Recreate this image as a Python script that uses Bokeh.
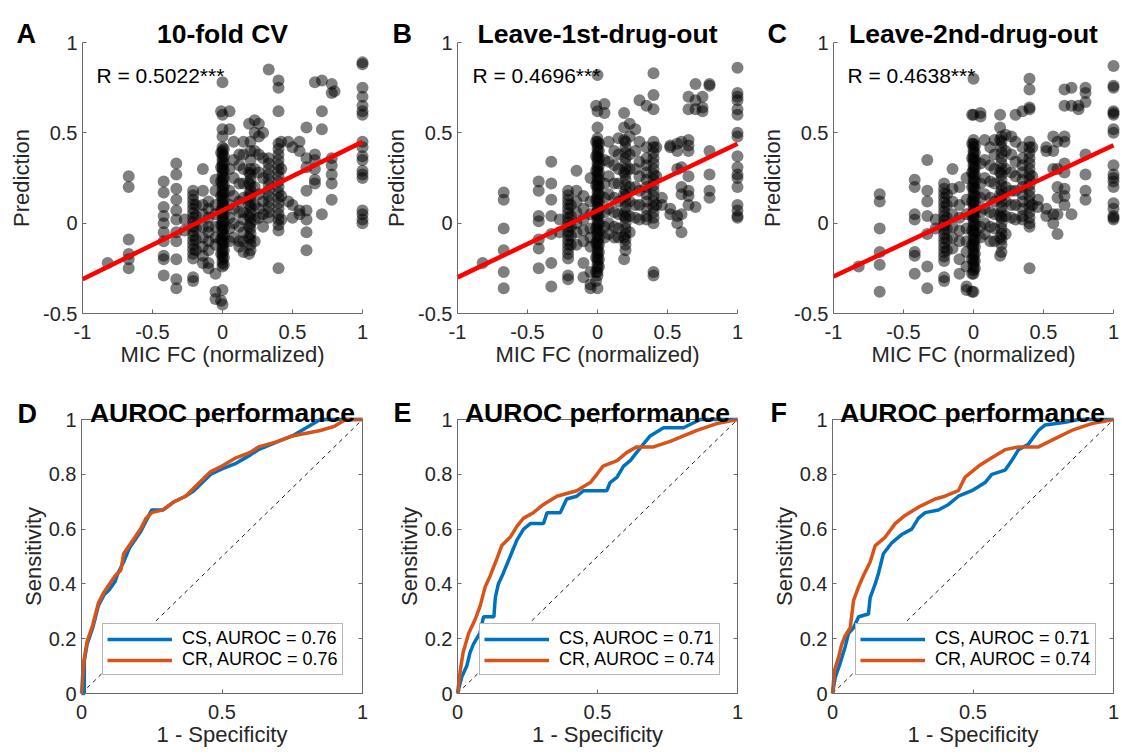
from bokeh.plotting import figure
from bokeh.models import Range1d, FixedTicker, Label, Legend, LegendItem, LinearAxis
from bokeh.layouts import gridplot
from bokeh.embed import file_html
from bokeh.resources import INLINE

FONT = "Liberation Sans"
GRAY = "#262626"
LINE_GRAY = "#6a6a6a"

# ---------------- data: scatter panels (x column -> list of predictions) ----------------
a_x_cols = [-0.82, -0.67, -0.42, -0.33, -0.27, -0.21, -0.19, -0.14, -0.10, -0.05, -0.01, 0.0, 0.01,
            0.05, 0.08, 0.12, 0.15, 0.19, 0.20, 0.23, 0.26, 0.29, 0.33, 0.40, 0.42, 0.47, 0.50, 0.55,
            0.60, 0.66, 0.71, 0.78, 0.80, 1.0]
a_y_cols = [
    [-0.22],
    [0.26, 0.20, -0.09, -0.17, -0.20, -0.25],
    [0.23, 0.17, 0.09, 0.04, 0.0, -0.05, -0.10, -0.18, -0.20, -0.29],
    [0.33, 0.27, 0.19, 0.13, 0.07, 0.02, -0.05, -0.10, -0.20, -0.31, -0.36],
    [0.02, -0.04],
    [0.18, 0.155, 0.13, 0.105, 0.08, 0.055, 0.03, 0.005, -0.02, -0.045, -0.07, -0.095, -0.12, -0.145,
     -0.17, -0.195, -0.30, -0.32],
    [0.10, 0.04, -0.03, -0.09, -0.15],
    [0.30, 0.18, 0.10, 0.05, -0.02, -0.08, -0.13, -0.18, -0.22],
    [0.12, 0.08, 0.03, -0.02, -0.05, -0.10, -0.15, -0.22, -0.25],
    [0.24, 0.18, 0.10, 0.05, -0.02, -0.08, -0.12, -0.28, -0.38, -0.42],
    [0.62, 0.39, 0.31, 0.23, 0.15, 0.07, -0.01, -0.09, -0.17, -0.43],
    [0.78, 0.60, 0.52, 0.48, 0.42, 0.40, 0.38, 0.36, 0.34, 0.32, 0.30, 0.28, 0.26, 0.24, 0.22, 0.20,
     0.18, 0.16, 0.14, 0.12, 0.10, 0.08, 0.06, 0.04, 0.02, 0.0, -0.02, -0.04, -0.06, -0.08, -0.10,
     -0.12, -0.14, -0.16, -0.18, -0.20, -0.22, -0.24, -0.37, -0.45],
    [0.41, 0.37, 0.33, 0.29, 0.25, 0.21, 0.17, 0.13, 0.09, 0.05, 0.01, -0.03, -0.07, -0.11, -0.15,
     -0.19, -0.23],
    [0.62, 0.52, 0.30, 0.18, 0.10, 0.03, -0.03, -0.10],
    [0.45, 0.35, 0.25, 0.15, 0.08, 0.0, -0.08],
    [0.38, 0.32, 0.22, 0.12, 0.06, -0.02, -0.10, -0.13],
    [0.45, 0.38, 0.30, 0.22, 0.14, 0.06, 0.02, -0.05, -0.10, -0.16],
    [0.55, 0.28, 0.22, 0.16, 0.10, 0.04, -0.02, -0.08, -0.17],
    [0.45, 0.40, 0.35, 0.30, 0.27, 0.24, 0.21, 0.18, 0.15, 0.12, 0.09, 0.06, 0.03, 0.0, -0.03, -0.06,
     -0.09, -0.12, -0.15],
    [0.57, 0.50, 0.40, 0.30, 0.20, 0.10, 0.02, -0.10],
    [0.55, 0.48, 0.38, 0.28, 0.16, 0.08, 0.03],
    [0.50, 0.36, 0.25, 0.12, 0.05, -0.02],
    [0.85, 0.36, 0.33, 0.30, 0.27, 0.24, 0.21, 0.18, 0.15, 0.12, 0.09, 0.06, 0.03],
    [0.79, 0.75, 0.62, 0.44, 0.41, 0.38, 0.35, 0.32, 0.29, 0.26, 0.23, 0.20, 0.17, 0.14, 0.11, 0.08,
     0.05, 0.02, -0.01, -0.04, -0.25],
    [0.45, 0.30, 0.15, 0.02],
    [0.45, 0.12],
    [0.42, 0.10, 0.03],
    [0.45, 0.40, 0.07, 0.05],
    [0.53, 0.36, 0.31, 0.18, 0.07, 0.02, -0.05, -0.15],
    [0.78, 0.38, 0.35, 0.30, 0.24, 0.22],
    [0.79, 0.62, 0.52, 0.05],
    [0.77, 0.72, 0.36, 0.32, 0.27, 0.22, 0.13],
    [0.73],
    [0.89, 0.88, 0.75, 0.70, 0.65, 0.62, 0.60, 0.45, 0.42, 0.37, 0.35, 0.29, 0.27, 0.25, 0.07, 0.05,
     0.02, 0.0],
]

b_x_cols = [-0.82, -0.67, -0.42, -0.33, -0.27, -0.21, -0.19, -0.15, -0.10, -0.05, -0.01, 0.0, 0.01,
            0.05, 0.08, 0.12, 0.15, 0.19, 0.20, 0.23, 0.27, 0.30, 0.35, 0.40, 0.42, 0.46, 0.52, 0.57,
            0.60, 0.65, 0.70, 0.75, 0.80, 1.0]
b_y_cols = [
    [-0.22],
    [0.17, 0.13, -0.03, -0.15, -0.27, -0.36],
    [0.23, 0.18, 0.04, 0.01, -0.09, -0.14, -0.25],
    [0.34, 0.22, 0.13, 0.04, -0.06, -0.22, -0.35],
    [0.02, -0.05],
    [0.18, 0.155, 0.13, 0.105, 0.08, 0.055, 0.03, 0.005, -0.02, -0.045, -0.07, -0.095, -0.12, -0.145,
     -0.17, -0.195, -0.29, -0.31],
    [0.10, 0.04, -0.02, -0.07, -0.12],
    [0.29, 0.18, 0.12, 0.06, 0.0, -0.05, -0.12],
    [0.15, 0.08, 0.02, -0.04, -0.10, -0.22, -0.30],
    [0.25, 0.12, 0.05, -0.03, -0.08, -0.13, -0.27, -0.34, -0.36],
    [0.65, 0.45, 0.37, 0.29, 0.21, 0.13, 0.05, -0.03, -0.11, -0.19, -0.27, -0.32],
    [0.82, 0.62, 0.53, 0.47, 0.45, 0.43, 0.41, 0.39, 0.37, 0.35, 0.33, 0.31, 0.29, 0.27, 0.25, 0.23,
     0.21, 0.19, 0.17, 0.15, 0.13, 0.11, 0.09, 0.07, 0.05, 0.03, 0.01, -0.01, -0.03, -0.05, -0.07,
     -0.09, -0.11, -0.13, -0.15, -0.17, -0.19, -0.21, -0.23, -0.25, -0.27, -0.29, -0.36],
    [0.44, 0.40, 0.36, 0.32, 0.28, 0.24, 0.20, 0.16, 0.12, 0.08, 0.04, 0.0, -0.04, -0.08, -0.12,
     -0.16, -0.20, -0.24],
    [0.66, 0.61, 0.35, 0.22, 0.14, 0.06, -0.02, -0.08],
    [0.45, 0.34, 0.26, 0.16, 0.08, 0.0, -0.06],
    [0.40, 0.32, 0.22, 0.14, 0.06, -0.02, -0.08],
    [0.47, 0.38, 0.30, 0.22, 0.12, 0.05, -0.03, -0.08],
    [0.61, 0.53, 0.46, 0.28, 0.16, 0.04, -0.08, -0.20],
    [0.45, 0.42, 0.39, 0.36, 0.33, 0.30, 0.27, 0.24, 0.21, 0.18, 0.15, 0.12, 0.09, 0.06, 0.03, 0.0,
     -0.03, -0.06, -0.09, -0.12, -0.15],
    [0.55, 0.48, 0.38, 0.30, 0.20, 0.12, 0.04, -0.05],
    [0.52, 0.40, 0.30, 0.20, 0.10, 0.03],
    [0.68, 0.45, 0.34, 0.26, 0.18, 0.10, 0.02],
    [0.65, 0.42, 0.36, 0.32, 0.28, 0.24, 0.20, 0.16, 0.12, 0.08, 0.04, 0.02],
    [0.83, 0.71, 0.63, 0.45, 0.42, 0.39, 0.36, 0.33, 0.30, 0.27, 0.24, 0.21, 0.18, 0.15, 0.12, 0.09,
     0.06, 0.03, 0.0, -0.27, -0.29],
    [0.42, 0.26, 0.10],
    [0.14, 0.10],
    [0.43, 0.42, 0.08, 0.05],
    [0.44, 0.40, 0.30, 0.04, 0.0],
    [0.45, 0.31, 0.20, 0.16, 0.05, -0.05],
    [0.70, 0.63, 0.46, 0.43, 0.40, 0.26, 0.18, 0.15, 0.10],
    [0.77, 0.68, 0.63, 0.09],
    [0.62, 0.70, 0.64],
    [0.77, 0.76, 0.40, 0.27, 0.18, 0.14],
    [0.86, 0.72, 0.70, 0.68, 0.63, 0.60, 0.50, 0.48, 0.37, 0.31, 0.27, 0.25, 0.20, 0.10, 0.07, 0.04,
     0.03],
]

c_x_cols = [-0.82, -0.67, -0.42, -0.33, -0.27, -0.21, -0.19, -0.15, -0.10, -0.05, -0.01, 0.0, 0.01,
            0.05, 0.08, 0.12, 0.15, 0.19, 0.20, 0.23, 0.27, 0.30, 0.35, 0.40, 0.42, 0.46, 0.52, 0.57,
            0.60, 0.65, 0.70, 0.75, 0.80, 1.0]
c_y_cols = [
    [-0.24],
    [0.16, 0.12, -0.03, -0.16, -0.23, -0.38],
    [0.24, 0.20, 0.05, 0.02, -0.16, -0.18, -0.28],
    [0.35, 0.18, 0.12, 0.04, -0.06, -0.24, -0.36],
    [0.02, -0.03],
    [0.22, 0.19, 0.165, 0.14, 0.115, 0.09, 0.065, 0.04, 0.015, -0.01, -0.035, -0.06, -0.085, -0.11,
     -0.135, -0.16, -0.185, -0.21, -0.30, -0.32],
    [0.16, 0.10, 0.03, -0.03, -0.09, -0.15],
    [0.30, 0.19, 0.12, 0.05, -0.02, -0.08, -0.14],
    [0.20, 0.10, 0.03, -0.04, -0.10, -0.20, -0.28],
    [0.25, 0.13, 0.05, -0.03, -0.10, -0.16, -0.24, -0.35, -0.37],
    [0.60, 0.44, 0.36, 0.28, 0.20, 0.12, 0.04, -0.04, -0.12, -0.20, -0.28, -0.38],
    [0.80, 0.60, 0.46, 0.44, 0.42, 0.40, 0.38, 0.36, 0.34, 0.32, 0.30, 0.28, 0.26, 0.24, 0.22, 0.20,
     0.18, 0.16, 0.14, 0.12, 0.10, 0.08, 0.06, 0.04, 0.02, 0.0, -0.02, -0.04, -0.06, -0.08, -0.10,
     -0.12, -0.14, -0.16, -0.18, -0.20, -0.22, -0.24, -0.26, -0.28, -0.38],
    [0.43, 0.39, 0.35, 0.31, 0.27, 0.23, 0.19, 0.15, 0.11, 0.07, 0.03, -0.01, -0.05, -0.09, -0.13,
     -0.17, -0.21, -0.25],
    [0.61, 0.59, 0.33, 0.22, 0.14, 0.06, -0.02, -0.08],
    [0.46, 0.35, 0.25, 0.16, 0.08, 0.0, -0.06],
    [0.42, 0.32, 0.23, 0.14, 0.06, -0.02, -0.10],
    [0.46, 0.38, 0.30, 0.22, 0.12, 0.05, -0.03, -0.10],
    [0.60, 0.53, 0.46, 0.28, 0.16, 0.04, -0.08, -0.18],
    [0.48, 0.45, 0.42, 0.39, 0.36, 0.33, 0.30, 0.27, 0.24, 0.21, 0.18, 0.15, 0.12, 0.09, 0.06, 0.03,
     0.0, -0.03, -0.06, -0.09, -0.12, -0.16],
    [0.49, 0.40, 0.30, 0.20, 0.12, 0.04, -0.06],
    [0.48, 0.38, 0.28, 0.18, 0.10, 0.03],
    [0.60, 0.45, 0.34, 0.26, 0.18, 0.10, 0.02],
    [0.62, 0.42, 0.36, 0.32, 0.28, 0.24, 0.20, 0.16, 0.12, 0.08, 0.04, 0.02],
    [0.80, 0.74, 0.64, 0.63, 0.45, 0.42, 0.39, 0.36, 0.33, 0.30, 0.27, 0.24, 0.21, 0.18, 0.15, 0.12,
     0.09, 0.06, 0.03, 0.0, -0.02, -0.25],
    [0.42, 0.26, 0.10],
    [0.13, 0.09],
    [0.42, 0.40, 0.08, 0.04],
    [0.48, 0.40, 0.30, 0.05, 0.0],
    [0.45, 0.30, 0.20, 0.14, 0.05, -0.06],
    [0.74, 0.65, 0.48, 0.45, 0.33, 0.28, 0.19, 0.15, 0.10],
    [0.75, 0.65, 0.05],
    [0.63, 0.65],
    [0.75, 0.72, 0.67, 0.38, 0.27, 0.18, 0.13],
    [0.87, 0.76, 0.75, 0.62, 0.61, 0.60, 0.52, 0.50, 0.32, 0.27, 0.25, 0.23, 0.20, 0.11, 0.08, 0.04,
     0.03, 0.02],
]

# linear fits (intercept, slope) and correlation labels
fit_x = [-1.0, 1.0]
a_fit = (0.07, 0.38)
b_fit = (0.07, 0.37)
c_fit = (0.068, 0.363)
r_texts = ["R = 0.5022***", "R = 0.4696***", "R = 0.4638***"]
scatter_titles = ["10-fold CV", "Leave-1st-drug-out", "Leave-2nd-drug-out"]
roc_title = "AUROC performance"
panel_letters = ["A", "B", "C", "D", "E", "F"]

# ---------------- data: ROC curves ----------------
d_cs_fpr = [0, 0.01, 0.01, 0.02, 0.03, 0.04, 0.05, 0.06, 0.08, 0.10, 0.12, 0.13, 0.15, 0.17, 0.19, 0.21,
            0.23, 0.25, 0.29, 0.33, 0.37, 0.40, 0.43, 0.46, 0.50, 0.55, 0.60, 0.63, 0.70, 0.75, 0.80,
            0.85, 1.0]
d_cs_tpr = [0, 0, 0.12, 0.18, 0.21, 0.24, 0.28, 0.32, 0.36, 0.38, 0.41, 0.44, 0.48, 0.53, 0.56, 0.59,
            0.63, 0.67, 0.67, 0.70, 0.72, 0.74, 0.77, 0.80, 0.82, 0.84, 0.87, 0.89, 0.92, 0.94, 0.97,
            1.0, 1.0]
d_cr_fpr = [0, 0.005, 0.01, 0.02, 0.03, 0.04, 0.05, 0.06, 0.08, 0.10, 0.12, 0.14, 0.15, 0.17, 0.19, 0.21,
            0.23, 0.25, 0.29, 0.33, 0.37, 0.40, 0.43, 0.46, 0.50, 0.55, 0.60, 0.63, 0.70, 0.75, 0.80,
            0.85, 0.90, 0.94, 1.0]
d_cr_tpr = [0, 0.08, 0.13, 0.19, 0.22, 0.25, 0.29, 0.33, 0.37, 0.40, 0.43, 0.45, 0.51, 0.54, 0.57, 0.60,
            0.64, 0.66, 0.67, 0.70, 0.72, 0.75, 0.78, 0.81, 0.83, 0.86, 0.88, 0.90, 0.92, 0.94, 0.95,
            0.96, 0.975, 1.0, 1.0]

e_cs_fpr = [0, 0.015, 0.033, 0.045, 0.057, 0.08, 0.093, 0.13, 0.135, 0.146, 0.164, 0.188, 0.212, 0.236,
            0.26, 0.307, 0.32, 0.367, 0.39, 0.426, 0.45, 0.533, 0.545, 0.57, 0.593, 0.617, 0.64, 0.664,
            0.688, 0.736, 0.807, 0.867, 1.0]
e_cs_tpr = [0, 0.06, 0.10, 0.15, 0.18, 0.22, 0.28, 0.28, 0.35, 0.40, 0.44, 0.50, 0.56, 0.60, 0.62, 0.62,
            0.66, 0.66, 0.71, 0.72, 0.74, 0.74, 0.77, 0.79, 0.83, 0.85, 0.88, 0.91, 0.94, 0.97, 0.97,
            1.0, 1.0]
e_cr_fpr = [0, 0.01, 0.02, 0.04, 0.063, 0.081, 0.099, 0.117, 0.14, 0.158, 0.188, 0.212, 0.236, 0.271,
            0.307, 0.355, 0.426, 0.474, 0.498, 0.52, 0.57, 0.605, 0.64, 0.70, 0.76, 0.807, 0.855, 0.926, 1.0]
e_cr_tpr = [0, 0.085, 0.15, 0.22, 0.27, 0.32, 0.39, 0.43, 0.49, 0.54, 0.57, 0.61, 0.64, 0.66, 0.69, 0.72,
            0.74, 0.77, 0.80, 0.83, 0.85, 0.88, 0.90, 0.90, 0.92, 0.94, 0.96, 0.985, 1.0]

f_cs_fpr = [0, 0.01, 0.027, 0.045, 0.057, 0.075, 0.093, 0.128, 0.134, 0.152, 0.164, 0.181, 0.211, 0.246,
            0.282, 0.306, 0.33, 0.377, 0.413, 0.448, 0.496, 0.543, 0.567, 0.614, 0.638, 0.662, 0.697,
            0.733, 0.757, 0.828, 0.875, 1.0]
f_cs_tpr = [0, 0.06, 0.11, 0.17, 0.22, 0.24, 0.28, 0.29, 0.35, 0.40, 0.44, 0.51, 0.55, 0.58, 0.60, 0.64,
            0.66, 0.67, 0.69, 0.72, 0.74, 0.77, 0.80, 0.815, 0.85, 0.89, 0.91, 0.96, 0.98, 0.99, 1.0, 1.0]
f_cr_fpr = [0, 0.007, 0.021, 0.033, 0.045, 0.063, 0.075, 0.093, 0.11, 0.134, 0.152, 0.187, 0.223, 0.258,
            0.306, 0.365, 0.40, 0.448, 0.472, 0.52, 0.567, 0.614, 0.662, 0.733, 0.792, 0.851, 0.922, 1.0]
f_cr_tpr = [0, 0.085, 0.13, 0.18, 0.21, 0.24, 0.34, 0.39, 0.43, 0.48, 0.54, 0.57, 0.62, 0.65, 0.68, 0.71,
            0.72, 0.74, 0.79, 0.83, 0.86, 0.89, 0.90, 0.90, 0.93, 0.96, 0.985, 1.0]

d_labels = ["CS, AUROC = 0.76", "CR, AUROC = 0.76"]
e_labels = ["CS, AUROC = 0.71", "CR, AUROC = 0.74"]
f_labels = ["CS, AUROC = 0.71", "CR, AUROC = 0.74"]
diag = [0, 1]
# ROC axes box edges: right edge (x=1) and top edge (y=1)
box_right_x, box_right_y = [1, 1], [0, 1]
box_top_x, box_top_y = [0, 1], [1, 1]

scatter_xticks = [-1, -0.5, 0, 0.5, 1]
scatter_xtick_labels = ["-1", "-0.5", "0", "0.5", "1"]
scatter_yticks = [-0.5, 0, 0.5, 1]
scatter_ytick_labels = ["-0.5", "0", "0.5", "1"]
roc_xticks = [0, 0.5, 1]
roc_xtick_labels = ["0", "0.5", "1"]
roc_yticks = [0, 0.2, 0.4, 0.6, 0.8, 1]
roc_ytick_labels = ["0", "0.2", "0.4", "0.6", "0.8", "1"]

CS_COLOR = "#0072BD"
CR_COLOR = "#D95319"


def flatten(xc, yc):
    xs, ys = [], []
    for x, yl in zip(xc, yc):
        for y in yl:
            xs.append(x)
            ys.append(y)
    return xs, ys


def style_axis(ax, ticks, labels, lab_standoff, axis_standoff, label_size="22px"):
    ax.ticker = FixedTicker(ticks=ticks)
    ax.major_label_overrides = {t: l for t, l in zip(ticks, labels)}
    ax.axis_line_color = LINE_GRAY
    ax.axis_line_width = 1
    ax.major_tick_line_color = LINE_GRAY
    ax.major_tick_in = 4
    ax.major_tick_out = 0
    ax.minor_tick_line_color = None
    ax.major_label_text_font = FONT
    ax.major_label_text_font_size = "20px"
    ax.major_label_text_color = GRAY
    ax.major_label_standoff = lab_standoff
    ax.axis_label_text_font = FONT
    ax.axis_label_text_font_size = label_size
    ax.axis_label_text_font_style = "normal"
    ax.axis_label_text_color = GRAY
    ax.axis_label_standoff = axis_standoff


class Geom:
    """Maps page pixels to data coordinates for a figure whose frame fills its canvas."""
    def __init__(self, ox, oy, w, h, x_at, px_x, ppux, y_at, px_y, ppuy):
        self.ox, self.oy, self.w, self.h = ox, oy, w, h
        self.x_at, self.px_x, self.ppux = x_at, px_x, ppux
        self.y_at, self.px_y, self.ppuy = y_at, px_y, ppuy

    def x(self, page_x):
        return self.x_at + (page_x - self.px_x) / self.ppux

    def y(self, page_y):
        return self.y_at - (page_y - self.px_y) / self.ppuy

    def ranges(self):
        return (Range1d(self.x(self.ox), self.x(self.ox + self.w)),
                Range1d(self.y(self.oy + self.h), self.y(self.oy)))


def add_text(p, g, page_x, page_y, text, size, bold=False, align="left", color="black"):
    p.add_layout(Label(x=g.x(page_x), y=g.y(page_y), text=text, text_font=FONT, text_font_size=size,
                       text_font_style="bold" if bold else "normal", text_align=align,
                       text_baseline="alphabetic", text_color=color))


def base_figure(g):
    xr, yr = g.ranges()
    p = figure(width=g.w, height=g.h, min_border=0, min_border_left=0, min_border_right=0,
               min_border_top=0, min_border_bottom=0, output_backend="svg", toolbar_location=None,
               x_range=xr, y_range=yr)
    p.title.visible = False
    p.outline_line_color = None
    p.grid.visible = False
    p.background_fill_color = "white"
    p.border_fill_color = "white"
    return p


def scatter_panel(g, xc, yc, fit, rtext, title, letter, letter_x, title_x, r_x):
    p = base_figure(g)
    xs, ys = flatten(xc, yc)
    p.scatter(xs, ys, size=12, fill_color="black", fill_alpha=0.5, line_color=None)
    fy = [fit[0] + fit[1] * x for x in fit_x]
    p.line(fit_x, fy, line_color="#FF0000", line_width=4.5)
    xa, ya = p.xaxis[0], p.yaxis[0]
    style_axis(xa, scatter_xticks, scatter_xtick_labels, 11, 0)
    style_axis(ya, scatter_yticks, scatter_ytick_labels, 5, 6)
    xa.fixed_location = -0.5
    ya.fixed_location = -1
    xa.bounds = (-1, 1)
    ya.bounds = (-0.5, 1)
    xa.axis_label = "MIC FC (normalized)"
    ya.axis_label = "Prediction"
    add_text(p, g, letter_x, 33, letter, "27px", bold=True)
    add_text(p, g, title_x, 33, title, "26.5px", bold=True, align="center")
    add_text(p, g, r_x, 75, rtext, "21px")
    return p


def roc_panel(g, cs, cr, labels, letter, letter_x, letter_y, title_x, leg_x):
    p = base_figure(g)
    # right and top edges of the axes box, underneath the curves
    p.line(box_right_x, box_right_y, line_color=LINE_GRAY, line_width=1)
    p.line(box_top_x, box_top_y, line_color=LINE_GRAY, line_width=1)
    p.line(diag, diag, line_color="black", line_width=0.9, line_dash="4 4")
    r1 = p.line(cs[0], cs[1], line_color=CS_COLOR, line_width=3.5)
    r2 = p.line(cr[0], cr[1], line_color=CR_COLOR, line_width=3.5)
    xa, ya = p.xaxis[0], p.yaxis[0]
    style_axis(xa, roc_xticks, roc_xtick_labels, 11, 0)
    style_axis(ya, roc_yticks, roc_ytick_labels, 5, 0)
    xa.fixed_location = 0
    ya.fixed_location = 0
    xa.bounds = (0, 1)
    ya.bounds = (0, 1)
    xa.axis_label = "1 - Specificity"
    ya.axis_label = "Sensitivity"
    for loc, ticks in (("right", roc_yticks), ("above", roc_xticks)):
        ax = LinearAxis(ticker=FixedTicker(ticks=ticks), fixed_location=1, bounds=(0, 1),
                        axis_line_color=LINE_GRAY, axis_line_width=1,
                        major_tick_in=4, major_tick_out=0, major_tick_line_color=LINE_GRAY,
                        minor_tick_line_color=None, major_label_text_color=None,
                        major_label_standoff=0)
        p.add_layout(ax, loc)
    leg = Legend(items=[LegendItem(label=labels[0], renderers=[r1]),
                        LegendItem(label=labels[1], renderers=[r2])],
                 location=(leg_x, 75))
    leg.label_text_font = FONT
    leg.label_text_font_size = "18px"
    leg.label_text_color = "black"
    leg.glyph_width = 65
    leg.glyph_height = 20
    leg.label_height = 20
    leg.label_standoff = 10
    leg.padding = 4
    leg.spacing = 0
    leg.margin = 0
    leg.border_line_color = "#6e6e6e"
    leg.border_line_width = 1
    leg.background_fill_color = "white"
    leg.background_fill_alpha = 1
    p.add_layout(leg, "center")
    add_text(p, g, letter_x, letter_y, letter, "27px", bold=True)
    add_text(p, g, title_x, 412, roc_title, "26.5px", bold=True, align="center")
    return p


PPU_SY = 271 / 1.5
# scatter panels: x=-1 at page x, y=1 at page 42
gA = Geom(0, 0, 375, 375, -1, 82, 140.0, 1, 42, PPU_SY)
gB = Geom(375, 0, 375, 375, -1, 457, 140.0, 1, 42, PPU_SY)
gC = Geom(750, 0, 370, 375, -1, 833, 140.0, 1, 42, PPU_SY)
# ROC panels: x=0 at page x, y=1 at page 419
gD = Geom(0, 375, 375, 375, 0, 81, 281.0, 1, 419, 274.0)
gE = Geom(375, 375, 375, 375, 0, 457, 280.0, 1, 419, 274.0)
gF = Geom(750, 375, 370, 375, 0, 832, 281.0, 1, 419, 274.0)

pA = scatter_panel(gA, a_x_cols, a_y_cols, a_fit, r_texts[0], scatter_titles[0], panel_letters[0], 16, 222, 96)
pB = scatter_panel(gB, b_x_cols, b_y_cols, b_fit, r_texts[1], scatter_titles[1], panel_letters[1], 392, 597, 472)
pC = scatter_panel(gC, c_x_cols, c_y_cols, c_fit, r_texts[2], scatter_titles[2], panel_letters[2], 767, 973, 847)

pD = roc_panel(gD, (d_cs_fpr, d_cs_tpr), (d_cr_fpr, d_cr_tpr), d_labels, panel_letters[3], 17, 413, 222, 102)
pE = roc_panel(gE, (e_cs_fpr, e_cs_tpr), (e_cr_fpr, e_cr_tpr), e_labels, panel_letters[4], 393, 412, 597, 104)
pF = roc_panel(gF, (f_cs_fpr, f_cs_tpr), (f_cr_fpr, f_cr_tpr), f_labels, panel_letters[5], 770, 412, 972, 105)

grid = gridplot([[pA, pB, pC], [pD, pE, pF]], toolbar_location=None)

with open("out.html", "w") as fh:
    fh.write(file_html(grid, INLINE))
